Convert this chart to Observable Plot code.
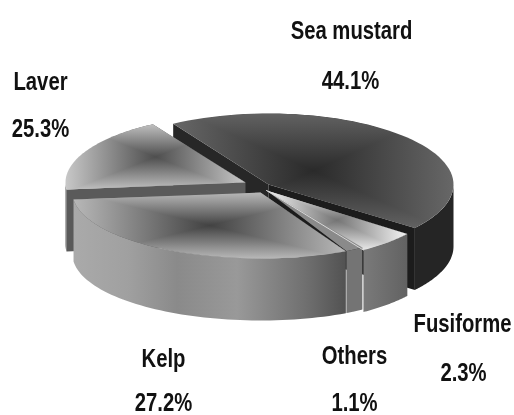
<!DOCTYPE html>
<html>
<head>
<meta charset="utf-8">
<script src="https://cdn.jsdelivr.net/npm/d3@7"></script>
<script src="https://cdn.jsdelivr.net/npm/@observablehq/plot@0.6"></script>
<style>
  html, body { margin: 0; background: #fff; }
  svg { display: block; }
</style>
</head>
<body>
<div id="chart"></div>
<script>
// Share of seaweed production by species, percent.
const names = ["Sea mustard", "Fusiforme", "Others", "Kelp", "Laver"];
const shares = [44.1, 2.3, 1.1, 27.2, 25.3];

// Tilted view: cumulative share to on-screen bearing (degrees clockwise from north).
const bearing = d3.scaleLinear()
  .domain([0, 44.1, 46.4, 47.5, 74.7, 100])
  .range([-31, 127.7, 147, 153, 264, 329]);

// Exploded hub and ellipse radii of each slice, and the wall depth.
const hubs = [
  {cx: 268, cy: 184, rx: 185, ry: 71},
  {cx: 266, cy: 190, rx: 178, ry: 71},
  {cx: 266, cy: 190, rx: 176, ry: 68},
  {cx: 260, cy: 192, rx: 188, ry: 66},
  {cx: 245, cy: 182, rx: 180, ry: 68}
];
const depth = 62;

// Build the outline pieces of every slice from its share.
const ends = d3.cumsum(shares);
const slices = names.map((name, i) => {
  const a0 = bearing(i ? ends[i - 1] : 0);
  const a1 = bearing(ends[i]);
  const h = hubs[i];
  const at = (a) => {
    const t = a * Math.PI / 180;
    return {x: h.cx + h.rx * Math.sin(t), y: h.cy - h.ry * Math.cos(t)};
  };
  const sweep = (from, to) => d3.range(0, 61).map((k) => at(from + (to - from) * k / 60));
  const arc = sweep(a0, a1);
  // Only the front half of the rim has a visible wall.
  const front = sweep(Math.max(a0, 90), Math.min(a1, 270));
  const hub = {x: h.cx, y: h.cy};
  const down = (p) => ({x: p.x, y: p.y + depth});
  const first = arc[0], last = arc[arc.length - 1];
  return {
    name,
    top: [hub, ...arc],
    wall: [...front, ...front.map(down).reverse()],
    faceStart: [hub, first, down(first), down(hub)],
    faceEnd: [hub, last, down(last), down(hub)],
    edgeEnd: [hub, last]
  };
});
const byName = Object.fromEntries(slices.map((s) => [s.name, s]));

// Label anchors.
const labelValues = shares.map((v) => `${v.toFixed(1)}%`);
const nameAnchors = [[351, 30], [462, 323], [354, 355], [163, 358], [40, 81]];
const valueAnchors = [[350, 80], [463, 372], [354, 402], [163, 402], [40, 128]];
const labels = [
  ...names.map((text, i) => ({text, x: nameAnchors[i][0], y: nameAnchors[i][1]})),
  ...labelValues.map((text, i) => ({text, x: valueAnchors[i][0], y: valueAnchors[i][1]}))
];

// Grey ramps for the surfaces: edge to centre, along one axis.
const ramp = (edge, centre) => [[0, edge], [0.5, centre], [1, edge]];
const gradients = [
  {id: "seaH", dir: "h", stops: ramp("#676767", "#2a2a2a")},
  {id: "seaV", dir: "v", stops: ramp("#626262", "#2a2a2a")},
  {id: "laverH", dir: "h", stops: ramp("#c8c8c8", "#4e4e4e")},
  {id: "laverV", dir: "v", stops: ramp("#c0c0c0", "#4e4e4e")},
  {id: "kelpH", dir: "h", stops: ramp("#b8b8b8", "#424242")},
  {id: "kelpV", dir: "v", stops: ramp("#b8b8b8", "#424242")},
  {id: "fusH", dir: "h", stops: ramp("#f4f4f4", "#747474")},
  {id: "fusV", dir: "v", stops: ramp("#e8e8e8", "#747474")},
  {id: "kelpWall", dir: "h", stops: [[0, "#aaaaaa"], [0.2, "#a0a0a0"], [0.38, "#8a8a8a"], [0.6, "#999999"], [0.85, "#707070"], [1, "#525252"]]},
  {id: "fusWall", dir: "h", stops: [[0, "#7a7a7a"], [1, "#626262"]]}
];

const defs = () => {
  const d = d3.create("svg:defs");
  for (const g of gradients) {
    const lg = d.append("linearGradient").attr("id", g.id)
      .attr("x1", 0).attr("y1", 0)
      .attr("x2", g.dir === "h" ? 1 : 0).attr("y2", g.dir === "h" ? 0 : 1);
    for (const [o, c] of g.stops) lg.append("stop").attr("offset", o).attr("stop-color", c);
  }
  return d.node();
};

const shape = (points, fill, extra = {}) =>
  Plot.line(points, {x: "x", y: "y", fill, stroke: "none", ...extra});

// A top surface: the two ramps keep whichever is lighter, giving the cross-shaped shading.
const shaded = (points, key) => [
  shape(points, `url(#${key}H)`),
  shape(points, `url(#${key}V)`, {mixBlendMode: "lighten"})
];

const sea = byName["Sea mustard"], laver = byName["Laver"], kelp = byName["Kelp"],
      fus = byName["Fusiforme"], others = byName["Others"];

const chart = Plot.plot({
  width: 514,
  height: 415,
  margin: 0,
  style: {background: "#fff"},
  x: {domain: [0, 514], range: [0, 514], axis: null},
  y: {domain: [0, 415], range: [0, 415], axis: null},
  marks: [
    defs,
    shape(sea.wall, "#252525"),
    shape(sea.faceStart, "#272727"),
    shape(sea.faceEnd, "#1c1c1c"),
    ...shaded(sea.top, "sea"),
    shape(laver.wall, "#5e5e5e"),
    shape(laver.faceStart, "#5a5a5a"),
    ...shaded(laver.top, "laver"),
    shape(kelp.wall, "url(#kelpWall)"),
    ...shaded(kelp.top, "kelp"),
    shape(fus.wall, "url(#fusWall)"),
    ...shaded(fus.top, "fus"),
    shape(others.wall, "#747474"),
    shape(others.top, "#8a8a8a"),
    Plot.line(fus.edgeEnd, {x: "x", y: "y", stroke: "#d8d8d8", strokeWidth: 1}),
    Plot.text(labels, {
      x: "x", y: "y", text: "text",
      fontFamily: "'Liberation Sans', Arial, sans-serif",
      fontWeight: "bold",
      fontSize: 26,
      fill: "#111"
    })
  ]
});
document.getElementById("chart").append(chart);

// The lettering is set condensed: narrow each label about its own anchor.
d3.select(chart).selectAll("text").each(function () {
  const t = d3.select(this);
  t.attr("transform", `${t.attr("transform") || ""} scale(0.78,1)`);
});
</script>
</body>
</html>
